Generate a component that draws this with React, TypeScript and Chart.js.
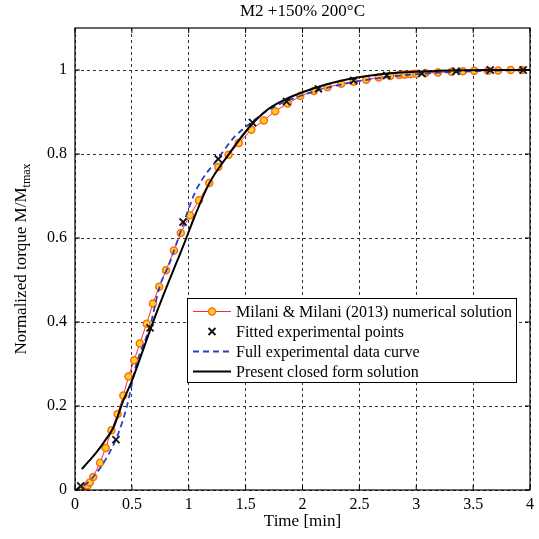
import React, { useEffect, useRef } from 'react';
import { Chart, registerables } from 'chart.js';

Chart.register(...registerables);

const TITLE = 'M2 +150% 200°C';
const X_TITLE = 'Time [min]';
const Y_TITLE_MAIN = 'Normalized torque M/M';
const Y_TITLE_SUB = 'tmax';
const X_TICKS = [0, 0.5, 1, 1.5, 2, 2.5, 3, 3.5, 4];
const Y_TICKS = [0, 0.2, 0.4, 0.6, 0.8, 1];
const LEGEND_LABELS = [
  'Milani & Milani (2013) numerical solution',
  'Fitted experimental points',
  'Full experimental data curve',
  'Present closed form solution',
];

// Milani & Milani (2013) numerical solution
const milaniT = [0.05, 0.07, 0.09, 0.11, 0.13, 0.16, 0.22, 0.27, 0.32, 0.375, 0.425, 0.47, 0.52, 0.57, 0.63, 0.685, 0.74, 0.8, 0.87, 0.93, 1.01, 1.09, 1.18, 1.26, 1.35, 1.44, 1.55, 1.66, 1.76, 1.87, 1.98, 2.1, 2.22, 2.34, 2.45, 2.56, 2.67, 2.77, 2.85, 2.9, 2.95, 3.0, 3.08, 3.19, 3.31, 3.41, 3.51, 3.63, 3.72, 3.83, 3.93];
const milaniV = [0.0, 0.003, 0.007, 0.011, 0.018, 0.031, 0.065, 0.1, 0.142, 0.181, 0.225, 0.27, 0.309, 0.349, 0.396, 0.444, 0.484, 0.523, 0.57, 0.612, 0.654, 0.69, 0.731, 0.769, 0.798, 0.826, 0.858, 0.88, 0.902, 0.92, 0.938, 0.95, 0.959, 0.967, 0.972, 0.977, 0.982, 0.986, 0.988, 0.989, 0.99, 0.991, 0.993, 0.994, 0.996, 0.997, 0.998, 0.998, 0.999, 1.0, 1.0];

// Fitted experimental points
const fittedT = [0.05, 0.36, 0.66, 0.95, 1.26, 1.56, 1.86, 2.14, 2.45, 2.74, 3.05, 3.35, 3.65, 3.94];
const fittedV = [0.01, 0.12, 0.386, 0.638, 0.788, 0.875, 0.925, 0.955, 0.975, 0.987, 0.992, 0.997, 1.0, 1.0];

// Full experimental data curve
const expT = [0, 0.02, 0.1, 0.16, 0.22, 0.28, 0.37, 0.454, 0.54, 0.66, 0.743, 0.83, 0.932, 1.063, 1.265, 1.4, 1.555, 1.7, 2.0, 2.3, 2.6, 3.0, 3.5, 4.0];
const expV = [0, 0.003, 0.015, 0.031, 0.052, 0.078, 0.127, 0.197, 0.3, 0.39, 0.483, 0.539, 0.618, 0.713, 0.792, 0.84, 0.876, 0.905, 0.94, 0.963, 0.978, 0.99, 0.997, 1.0];

// Present closed form solution
const closedT = [0.06, 0.12, 0.19, 0.27, 0.34, 0.42, 0.5, 0.6, 0.67, 0.77, 0.89, 0.95, 1.05, 1.18, 1.34, 1.54, 1.7, 1.85, 2.0, 2.2, 2.42, 2.6, 2.86, 3.2, 3.6, 4.0];
const closedV = [0.05, 0.068, 0.09, 0.12, 0.15, 0.21, 0.26, 0.335, 0.388, 0.459, 0.54, 0.58, 0.65, 0.73, 0.795, 0.866, 0.907, 0.93, 0.947, 0.965, 0.979, 0.987, 0.994, 0.998, 1.0, 1.0];

const FONT = '"Liberation Serif", "Times New Roman", serif';
const RED = '#ff2a2a';
const MARK_FILL = '#ffd21f';
const MARK_EDGE = '#ff6a1a';
const BLUE = '#2c3fc4';

const pairs = (t: number[], v: number[]) => t.map((x, i) => ({ x, y: v[i] }));

const decorPlugin = {
  id: 'decor',
  afterDraw(chart: any) {
    const { ctx, chartArea: ca, scales } = chart;
    ctx.save();
    ctx.setLineDash([]);
    // frame
    ctx.strokeStyle = '#000';
    ctx.lineWidth = 1.2;
    ctx.strokeRect(ca.left, ca.top, ca.right - ca.left, ca.bottom - ca.top);
    // inward tick marks
    ctx.lineWidth = 1;
    ctx.beginPath();
    X_TICKS.forEach((v) => {
      const px = scales.x.getPixelForValue(v);
      ctx.moveTo(px, ca.bottom);
      ctx.lineTo(px, ca.bottom - 5);
      ctx.moveTo(px, ca.top);
      ctx.lineTo(px, ca.top + 5);
    });
    Y_TICKS.forEach((v) => {
      const py = scales.y.getPixelForValue(v);
      ctx.moveTo(ca.left, py);
      ctx.lineTo(ca.left + 5, py);
      ctx.moveTo(ca.right, py);
      ctx.lineTo(ca.right - 5, py);
    });
    ctx.stroke();

    // title
    ctx.fillStyle = '#000';
    ctx.font = `17px ${FONT}`;
    ctx.textAlign = 'center';
    ctx.textBaseline = 'middle';
    ctx.fillText(TITLE, (ca.left + ca.right) / 2, 12);
    // x title
    ctx.fillText(X_TITLE, (ca.left + ca.right) / 2, 522);
    // y title with subscript
    ctx.save();
    ctx.translate(20, (ca.top + ca.bottom) / 2);
    ctx.rotate(-Math.PI / 2);
    ctx.font = `17px ${FONT}`;
    const wMain = ctx.measureText(Y_TITLE_MAIN).width;
    ctx.font = `12px ${FONT}`;
    const wSub = ctx.measureText(Y_TITLE_SUB).width;
    const start = -(wMain + wSub) / 2;
    ctx.textAlign = 'left';
    ctx.textBaseline = 'alphabetic';
    ctx.font = `17px ${FONT}`;
    ctx.fillText(Y_TITLE_MAIN, start, 6);
    ctx.font = `12px ${FONT}`;
    ctx.fillText(Y_TITLE_SUB, start + wMain, 10);
    ctx.restore();

    // legend
    const lx = 187.5, ly = 298.5, lw = 329, lh = 84;
    ctx.fillStyle = '#fff';
    ctx.fillRect(lx, ly, lw, lh);
    ctx.strokeStyle = '#000';
    ctx.lineWidth = 1;
    ctx.strokeRect(lx, ly, lw, lh);
    const rowY = [311.5, 331.5, 351.5, 371.5];
    const s0 = 193, s1 = 231, sm = 212;
    // row 1
    ctx.strokeStyle = RED;
    ctx.lineWidth = 1;
    ctx.beginPath();
    ctx.moveTo(s0, rowY[0]);
    ctx.lineTo(s1, rowY[0]);
    ctx.stroke();
    ctx.beginPath();
    ctx.arc(sm, rowY[0], 3.5, 0, Math.PI * 2);
    ctx.fillStyle = MARK_FILL;
    ctx.fill();
    ctx.strokeStyle = MARK_EDGE;
    ctx.lineWidth = 1.5;
    ctx.stroke();
    // row 2
    ctx.strokeStyle = '#111';
    ctx.lineWidth = 1.8;
    ctx.beginPath();
    const d = 3.5;
    ctx.moveTo(sm - d, rowY[1] - d);
    ctx.lineTo(sm + d, rowY[1] + d);
    ctx.moveTo(sm - d, rowY[1] + d);
    ctx.lineTo(sm + d, rowY[1] - d);
    ctx.stroke();
    // row 3
    ctx.strokeStyle = BLUE;
    ctx.lineWidth = 1.8;
    ctx.setLineDash([6, 4]);
    ctx.beginPath();
    ctx.moveTo(s0, rowY[2]);
    ctx.lineTo(s1, rowY[2]);
    ctx.stroke();
    ctx.setLineDash([]);
    // row 4
    ctx.strokeStyle = '#000';
    ctx.lineWidth = 2;
    ctx.beginPath();
    ctx.moveTo(s0, rowY[3]);
    ctx.lineTo(s1, rowY[3]);
    ctx.stroke();
    // texts
    ctx.fillStyle = '#000';
    ctx.font = `16px ${FONT}`;
    ctx.textAlign = 'left';
    ctx.textBaseline = 'middle';
    LEGEND_LABELS.forEach((t, i) => ctx.fillText(t, 236, rowY[i] + 1));
    ctx.restore();
  },
};

export default function App() {
  const ref = useRef<HTMLCanvasElement | null>(null);
  useEffect(() => {
    if (!ref.current) return;
    const chart = new Chart(ref.current, {
      type: 'line',
      data: {
        datasets: [
          {
            label: LEGEND_LABELS[0],
            data: pairs(milaniT, milaniV),
            borderColor: RED,
            borderWidth: 1,
            pointRadius: 3.5,
            pointBackgroundColor: MARK_FILL,
            pointBorderColor: MARK_EDGE,
            pointBorderWidth: 1.5,
            tension: 0,
            order: 3,
          },
          {
            label: LEGEND_LABELS[1],
            data: pairs(fittedT, fittedV),
            showLine: false,
            pointStyle: 'crossRot',
            pointRadius: 5,
            pointBorderColor: '#111',
            pointBorderWidth: 1.8,
            order: 0,
          },
          {
            label: LEGEND_LABELS[2],
            data: pairs(expT, expV),
            borderColor: BLUE,
            borderWidth: 1.8,
            borderDash: [6, 4],
            pointRadius: 0,
            cubicInterpolationMode: 'monotone',
            order: 2,
          },
          {
            label: LEGEND_LABELS[3],
            data: pairs(closedT, closedV),
            borderColor: '#000',
            borderWidth: 2,
            pointRadius: 0,
            cubicInterpolationMode: 'monotone',
            order: 1,
          },
        ],
      },
      options: {
        animation: false,
        responsive: false,
        events: [],
        layout: { padding: { top: 28, right: 7, left: 0, bottom: 0 } },
        plugins: {
          legend: { display: false },
          title: { display: false },
          tooltip: { enabled: false },
        },
        scales: {
          x: {
            type: 'linear',
            min: 0,
            max: 4,
            afterBuildTicks: (s: any) => {
              s.ticks = X_TICKS.map((value) => ({ value }));
            },
            afterFit: (s: any) => {
              s.height = 49;
            },
            ticks: {
              font: { family: FONT, size: 16 },
              color: '#000',
              padding: 5,
              maxRotation: 0,
              autoSkip: false,
              callback: (v: any) => String(v),
            },
            grid: { color: '#333', lineWidth: 1, drawTicks: false },
            border: { display: false, dash: [3, 3] },
          },
          y: {
            type: 'linear',
            min: 0,
            max: 1.1,
            afterBuildTicks: (s: any) => {
              s.ticks = Y_TICKS.map((value) => ({ value }));
            },
            afterFit: (s: any) => {
              s.width = 75;
            },
            ticks: {
              font: { family: FONT, size: 16 },
              color: '#000',
              padding: 8,
              autoSkip: false,
              callback: (v: any) => String(v),
            },
            grid: { color: '#333', lineWidth: 1, drawTicks: false },
            border: { display: false, dash: [3, 3] },
          },
        },
      },
      plugins: [decorPlugin],
    } as any);
    return () => chart.destroy();
  }, []);
  return (
    <div style={{ position: 'fixed', left: 0, top: 0, width: 539, height: 539, background: '#fff' }}>
      <canvas ref={ref} width={539} height={539} style={{ display: 'block' }} />
    </div>
  );
}
